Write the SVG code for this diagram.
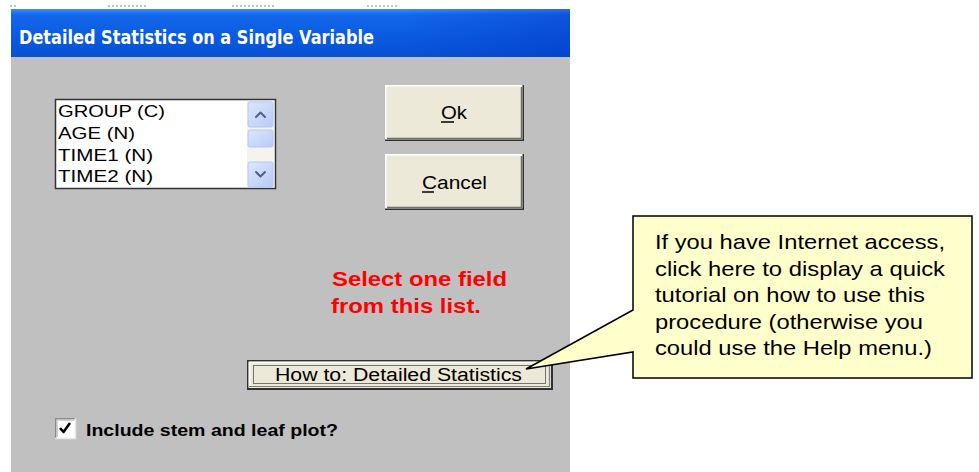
<svg xmlns="http://www.w3.org/2000/svg" width="979" height="472" viewBox="0 0 979 472">
  <defs>
    <linearGradient id="titleGrad" x1="0" y1="0" x2="0" y2="1">
      <stop offset="0" stop-color="#3d8ef6"/>
      <stop offset="0.12" stop-color="#1467ea"/>
      <stop offset="0.6" stop-color="#0a5ae0"/>
      <stop offset="1" stop-color="#0650d4"/>
    </linearGradient>
    <linearGradient id="titleShade" x1="0" y1="0" x2="1" y2="0">
      <stop offset="0.7" stop-color="#0030c0" stop-opacity="0"/>
      <stop offset="1" stop-color="#0030c0" stop-opacity="0.35"/>
    </linearGradient>
    <linearGradient id="sbBtn" x1="0" y1="0" x2="1" y2="1">
      <stop offset="0" stop-color="#dce7fd"/>
      <stop offset="1" stop-color="#b6cbf7"/>
    </linearGradient>
  </defs>
  <style>
    .ui { font-family: "Liberation Sans", Arial, sans-serif; fill: #000; }
    .btnface { fill: #ece9d8; }
    .hi { stroke: #ffffff; stroke-width: 1.5; fill: none; }
    .sh { stroke: #6e6e6e; stroke-width: 1.5; fill: none; }
    .dk { stroke: #303030; stroke-width: 1.5; fill: none; }
    .red { font-family: "Liberation Sans", Arial, sans-serif; font-weight: bold; fill: #ff0000; font-size: 20px; }
    .note { font-family: "Liberation Sans", Arial, sans-serif; font-size: 21px; fill: #000; }
    .chev { fill: none; stroke: #4d6185; stroke-width: 2; stroke-linecap: round; stroke-linejoin: round; }
  </style>

  <rect x="0" y="0" width="979" height="472" fill="#ffffff"/>

  <!-- faint capture artifacts at top -->
  <g stroke="#b0b0b0" stroke-width="1.5" stroke-dasharray="2 2">
    <line x1="10" y1="6" x2="18" y2="6"/>
    <line x1="108" y1="6" x2="148" y2="6"/>
    <line x1="232" y1="6" x2="274" y2="6"/>
    <line x1="367" y1="6" x2="398" y2="6"/>
  </g>

  <!-- window -->
  <g id="window">
    <rect x="11" y="57" width="559" height="415" fill="#c0c0c0"/>
    <rect x="11" y="9" width="559" height="48" fill="url(#titleGrad)"/>
    <rect x="11" y="9" width="559" height="48" fill="url(#titleShade)"/>
    <text x="19" y="44" font-family="DejaVu Sans, Verdana, sans-serif" font-weight="bold" font-size="20" fill="#ffffff" textLength="355" lengthAdjust="spacingAndGlyphs">Detailed Statistics on a Single Variable</text>
  </g>

  <!-- list box -->
  <g id="listbox">
    <rect x="55.5" y="99.5" width="220" height="89" fill="#ffffff" stroke="#333333" stroke-width="1.5"/>
    <rect x="247" y="101" width="27" height="86" fill="#f4f3ee"/>
    <rect x="248" y="102" width="25" height="25" rx="2" fill="url(#sbBtn)" stroke="#b4c8f4" stroke-width="1"/>
    <polyline class="chev" points="256,117 260.5,112.5 265,117"/>
    <rect x="248" y="130" width="25" height="17" rx="2" fill="url(#sbBtn)" stroke="#b4c8f4" stroke-width="1"/>
    <rect x="248" y="162" width="25" height="25" rx="2" fill="url(#sbBtn)" stroke="#b4c8f4" stroke-width="1"/>
    <polyline class="chev" points="256,172 260.5,176.5 265,172"/>
    <text class="ui" x="58" y="117" font-size="17" textLength="107" lengthAdjust="spacingAndGlyphs">GROUP (C)</text>
    <text class="ui" x="58" y="139" font-size="17" textLength="77" lengthAdjust="spacingAndGlyphs">AGE (N)</text>
    <text class="ui" x="58" y="161" font-size="17" textLength="95" lengthAdjust="spacingAndGlyphs">TIME1 (N)</text>
    <text class="ui" x="58" y="182" font-size="17" textLength="95" lengthAdjust="spacingAndGlyphs">TIME2 (N)</text>
  </g>

  <!-- Ok button -->
  <g id="ok-button">
    <rect class="btnface" x="385" y="85" width="139" height="56"/>
    <polyline class="hi" points="385.75,140 385.75,85.75 523,85.75"/>
    <polyline class="dk" points="385,140.25 523.25,140.25 523.25,85"/>
    <polyline class="sh" points="387,138.5 521.5,138.5 521.5,87"/>
    <text class="ui" x="454" y="119" font-size="18" text-anchor="middle" textLength="26" lengthAdjust="spacingAndGlyphs">Ok</text>
    <line x1="441" y1="122" x2="454" y2="122" stroke="#000" stroke-width="1.5"/>
  </g>

  <!-- Cancel button -->
  <g id="cancel-button">
    <rect class="btnface" x="385" y="154" width="139" height="56"/>
    <polyline class="hi" points="385.75,209 385.75,154.75 523,154.75"/>
    <polyline class="dk" points="385,209.25 523.25,209.25 523.25,154"/>
    <polyline class="sh" points="387,207.5 521.5,207.5 521.5,156"/>
    <text class="ui" x="454.5" y="189" font-size="18" text-anchor="middle" textLength="65" lengthAdjust="spacingAndGlyphs">Cancel</text>
    <line x1="422" y1="192" x2="434" y2="192" stroke="#000" stroke-width="1.5"/>
  </g>

  <!-- red instruction -->
  <g id="instruction">
    <text class="red" x="332" y="286" textLength="175" lengthAdjust="spacingAndGlyphs">Select one field</text>
    <text class="red" x="331" y="313" textLength="150" lengthAdjust="spacingAndGlyphs">from this list.</text>
  </g>

  <!-- How to button -->
  <g id="howto-button">
    <rect class="btnface" x="247" y="360" width="305" height="29"/>
    <polyline points="247.75,388 247.75,360.75 551,360.75" fill="none" stroke="#303030" stroke-width="1.5"/>
    <polyline points="249.5,387 249.5,362.5 550,362.5" fill="none" stroke="#ffffff" stroke-width="1.5"/>
    <polyline points="247,389 552,389 552,360" fill="none" stroke="#303030" stroke-width="2"/>
    <polyline points="249,386.5 549.5,386.5 549.5,362" fill="none" stroke="#808080" stroke-width="1.2"/>
    <rect x="253.5" y="365.5" width="292" height="18" fill="none" stroke="#000" stroke-width="1" stroke-dasharray="1 1"/>
    <text class="ui" x="275" y="381" font-size="18" textLength="247" lengthAdjust="spacingAndGlyphs">How to: Detailed Statistics</text>
  </g>

  <!-- checkbox -->
  <g id="stem-leaf-checkbox">
    <rect x="55" y="418" width="21" height="21" fill="#ffffff"/>
    <polyline points="55.75,438 55.75,418.75 75,418.75" fill="none" stroke="#8a8a8a" stroke-width="1.5"/>
    <polyline points="57.5,437 57.5,420.5 74,420.5" fill="none" stroke="#d0d0d0" stroke-width="1"/>
    <polyline points="55,438.5 75.5,438.5 75.5,418" fill="none" stroke="#e6e6e6" stroke-width="1.5"/>
    <polyline points="60,428 63.5,432 70,423" fill="none" stroke="#000" stroke-width="2.6" stroke-linejoin="round"/>
    <text class="ui" x="86" y="436" font-size="17" font-weight="bold" textLength="252" lengthAdjust="spacingAndGlyphs">Include stem and leaf plot?</text>
  </g>

  <!-- callout -->
  <g id="callout">
    <path d="M633,216 H972 V378 H633 V352 L526,369 L633,310 Z" fill="#ffffcc" stroke="#000000" stroke-width="1.5" stroke-linejoin="miter"/>
    <text class="note" x="655" y="249" textLength="290" lengthAdjust="spacingAndGlyphs">If you have Internet access,</text>
    <text class="note" x="655" y="276" textLength="290" lengthAdjust="spacingAndGlyphs">click here to display a quick</text>
    <text class="note" x="655" y="302" textLength="270" lengthAdjust="spacingAndGlyphs">tutorial on how to use this</text>
    <text class="note" x="655" y="329" textLength="268" lengthAdjust="spacingAndGlyphs">procedure (otherwise you</text>
    <text class="note" x="655" y="355" textLength="277" lengthAdjust="spacingAndGlyphs">could use the Help menu.)</text>
  </g>

  <g id="connectors"/>
</svg>
